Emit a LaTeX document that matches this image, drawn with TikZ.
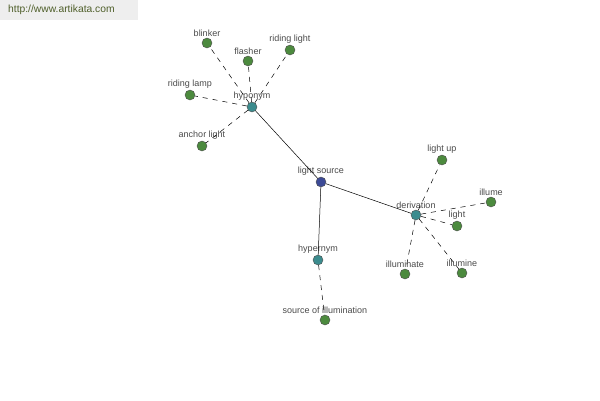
\documentclass[tikz,border=0pt]{standalone}
\usepackage{fontspec}
\setmainfont{Liberation Sans}
\usetikzlibrary{positioning}
\definecolor{leafgreen}{HTML}{4C8A3E}
\definecolor{relteal}{HTML}{3C8C8E}
\definecolor{rootblue}{HTML}{3C4A96}
\definecolor{labgray}{HTML}{4A4A4A}
\definecolor{bannergray}{HTML}{EEEEEE}
\definecolor{bannertext}{HTML}{4F5F2A}

\begin{document}
\begin{tikzpicture}[x=1pt, y=-1pt,
    dot/.style={draw=black!70, line width=0.4pt, circle, inner sep=0pt, minimum size=10pt,
      label={[text=labgray, font=\fontsize{9}{10}\selectfont, inner sep=1pt]above:#1}},
    leaf/.style={dot=#1, fill=leafgreen},
    rel/.style={dot=#1, fill=relteal},
    root/.style={dot=#1, fill=rootblue},
    link/.style={line width=0.5pt},
    weak/.style={line width=0.5pt, dash pattern=on 5pt off 5pt}]
  \useasboundingbox (0,0) rectangle (600,400);
  % banner
  \fill[bannergray] (0,0) rectangle (138,20);
  \node[anchor=west, text=bannertext, font=\fontsize{10.3}{12}\selectfont, inner sep=0pt] (url) at (8,10)
    {http://www.artikata.com};
  % centre and relations
  \node[root={light source}] (src) at (321,182) {};
  \node[rel=hyponym] (hypo) at (252,107) {};
  \node[rel=hypernym] (hyper) at (318,260) {};
  \node[rel=derivation] (deriv) at (416,215) {};
  % leaves
  \node[leaf=blinker] (blinker) at (207,43) {};
  \node[leaf=flasher] (flasher) at (248,61) {};
  \node[leaf={riding light}] (rlight) at (290,50) {};
  \node[leaf={riding lamp}] (rlamp) at (190,95) {};
  \node[leaf={anchor light}] (anchor) at (202,146) {};
  \node[leaf={source of illumination}] (soi) at (325,320) {};
  \node[leaf={light up}] (lightup) at (442,160) {};
  \node[leaf=illume] (illume) at (491,202) {};
  \node[leaf=light] (light) at (457,226) {};
  \node[leaf=illuminate] (illuminate) at (405,274) {};
  \node[leaf=illumine] (illumine) at (462,273) {};
  % edges
  \draw[link] (src) -- (hypo);
  \draw[link] (src) -- (hyper);
  \draw[link] (src) -- (deriv);
  \foreach \t in {blinker, flasher, rlight, rlamp, anchor}
    \draw[weak] (hypo) -- (\t);
  \draw[weak] (hyper) -- (soi);
  \foreach \t in {lightup, illume, light, illuminate, illumine}
    \draw[weak] (deriv) -- (\t);
\end{tikzpicture}
\end{document}
